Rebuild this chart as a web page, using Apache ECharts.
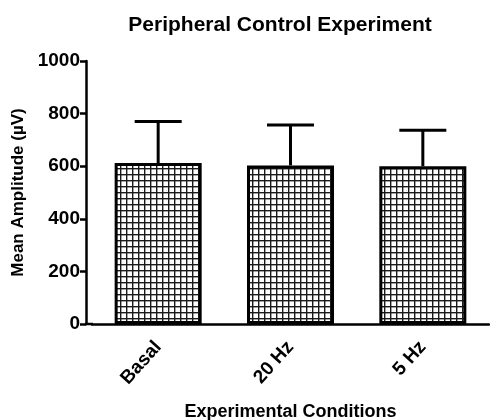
<!DOCTYPE html>
<html><head><meta charset="utf-8">
<script src="https://cdn.jsdelivr.net/npm/echarts@6/dist/echarts.min.js"></script>
<style>html,body{margin:0;padding:0;background:#fff}#c{width:490px;height:420px}</style>
</head><body><div id="c"></div>
<script>
const categories = ['Basal', '20 Hz', '5 Hz'];
const means = [612, 603, 600];
const upperErr = [770, 757, 737];
const yTicks = [0, 200, 400, 600, 800, 1000];

const pat = document.createElement('canvas');
pat.width = 6; pat.height = 6;
const g = pat.getContext('2d');
g.fillStyle = '#fff'; g.fillRect(0, 0, 6, 6);
g.fillStyle = '#1a1a1a';
g.fillRect(0, 0, 6, 1.4);
g.fillRect(0, 0, 1.4, 6);

const font = 'Liberation Sans, Arial, sans-serif';
const chart = echarts.init(document.getElementById('c'));
chart.setOption({
  animation: false,
  title: { text: 'Peripheral Control Experiment', left: 275, textAlign: 'center', top: 10,
    textStyle: { fontFamily: font, fontWeight: 'bold', fontSize: 21, color: '#000' } },
  grid: { left: 92, right: 1, top: 61, bottom: 96, outerBoundsMode: 'none', containLabel: false },
  xAxis: {
    type: 'category', data: categories,
    name: 'Experimental Conditions', nameLocation: 'middle', nameGap: 79,
    nameTextStyle: { fontFamily: font, fontWeight: 'bold', fontSize: 18, color: '#000' },
    axisLine: { lineStyle: { color: '#000', width: 2.5 } },
    axisTick: { alignWithLabel: true, length: 6, lineStyle: { color: '#000', width: 2.5 } },
    axisLabel: { rotate: 48, fontFamily: font, fontWeight: 'bold', fontSize: 19, color: '#000', margin: 20 }
  },
  yAxis: {
    type: 'value', min: 0, max: 1000, interval: 200, offset: 6,
    name: 'Mean Amplitude (µV)', nameLocation: 'middle', nameGap: 56,
    nameTextStyle: { fontFamily: font, fontWeight: 'bold', fontSize: 17, color: '#000' },
    axisLine: { show: true, lineStyle: { color: '#000', width: 2.5 } },
    axisTick: { show: true, length: 6, lineStyle: { color: '#000', width: 2.5 } },
    axisLabel: { fontFamily: font, fontWeight: 'bold', fontSize: 19, color: '#000', margin: 6,
      formatter: v => yTicks.includes(v) ? String(v) : '' },
    splitLine: { show: false }
  },
  graphic: [{ type: 'line', shape: { x1: 85, y1: 324, x2: 93, y2: 324 }, style: { stroke: '#000', lineWidth: 2.5 } }],
  series: [
    {
      type: 'bar', data: means, barWidth: 87, z: 2,
      itemStyle: { color: { image: pat, repeat: 'repeat' }, borderColor: '#000', borderWidth: 3 }
    },
    {
      type: 'custom', z: 1,
      data: means.map((m, i) => [i, m, upperErr[i]]),
      renderItem: (params, api) => {
        const base = api.coord([api.value(0), api.value(1)]);
        const top = api.coord([api.value(0), api.value(2)]);
        const half = 23.5;
        const st = { stroke: '#000', lineWidth: 3 };
        return { type: 'group', children: [
          { type: 'line', shape: { x1: base[0], y1: base[1], x2: top[0], y2: top[1] }, style: st },
          { type: 'line', shape: { x1: top[0] - half, y1: top[1], x2: top[0] + half, y2: top[1] }, style: st }
        ] };
      }
    }
  ]
});
</script></body></html>
